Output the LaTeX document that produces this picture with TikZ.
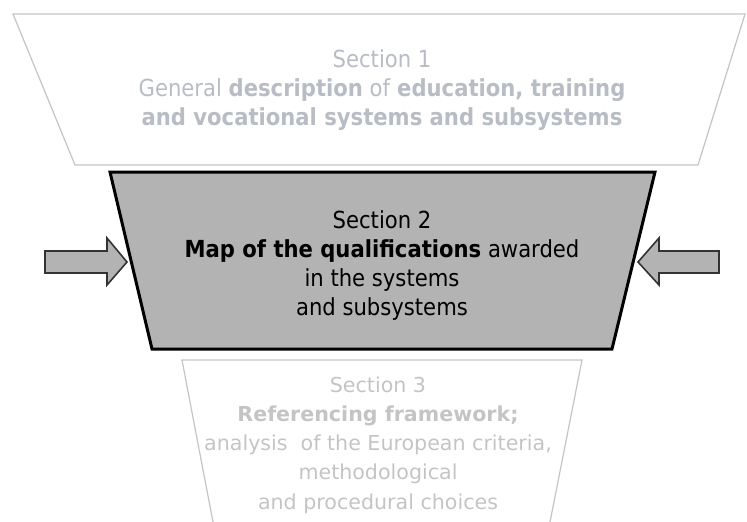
\documentclass[tikz,border=0pt]{standalone}
\usepackage{fontspec}
\setmainfont{DejaVu Sans}
\newfontfamily\narrowfont{DejaVu Sans Condensed}
\usepackage{xcolor}

\definecolor{boxgray}{HTML}{B3B3B3}
\definecolor{palegray}{HTML}{C4C4C4}
\definecolor{paletext}{HTML}{B8BCC4}
\definecolor{arrowedge}{HTML}{333333}

\tikzset{
    palebox/.style={draw=palegray, line width=1.2pt},
    mainbox/.style={draw=black, fill=boxgray, line width=3pt, line join=miter},
    blockarrow/.style={draw=arrowedge, fill=boxgray, line width=1.6pt, line join=miter},
    sectext/.style={align=center, inner sep=0pt}
}

\begin{document}
\begin{tikzpicture}[x=1pt,y=-1pt]
        \useasboundingbox (0,0) rectangle (747,522);
        % Section 1 (upper, pale)
        \draw [palebox] (13,14) -- (745,14) -- (698,165) -- (75,165) -- cycle;
        \node (sec1) [sectext, text=paletext, font=\narrowfont\fontsize{23.5}{29}\selectfont] at (382,90)
            {Section 1\\ General \textbf{description} of \textbf{education, training}\\ \textbf{and vocational systems and subsystems}};
        % Section 2 (middle, highlighted)
        \draw [mainbox] (110,172) -- (655,172) -- (612,349) -- (152,349) -- cycle;
        \node (sec2) [sectext, text=black, font=\narrowfont\fontsize{23.5}{29}\selectfont] at (382,266)
            {Section 2\\ \textbf{Map of the qualifications} awarded\\ in the systems\\ and subsystems};
        % Section 3 (lower, pale, cut at the bottom)
        \draw [palebox] (213,522) -- (182,360) -- (582,360) -- (550,522);
        \node (sec3) [sectext, text=palegray, font=\fontsize{20.6}{29.3}\selectfont] at (378,445)
            {Section 3\\ \textbf{Referencing framework;}\\ analysis\ \ of the European criteria,\\ methodological\\ and procedural choices};
        % Arrows pointing in
        \draw [blockarrow] (45,251) -- (107,251) -- (107,238) -- (127,262) -- (107,285) -- (107,273) -- (45,273) -- cycle;
        \draw [blockarrow] (719,251) -- (659,251) -- (659,238) -- (638,262) -- (659,285) -- (659,273) -- (719,273) -- cycle;
\end{tikzpicture}
\end{document}
